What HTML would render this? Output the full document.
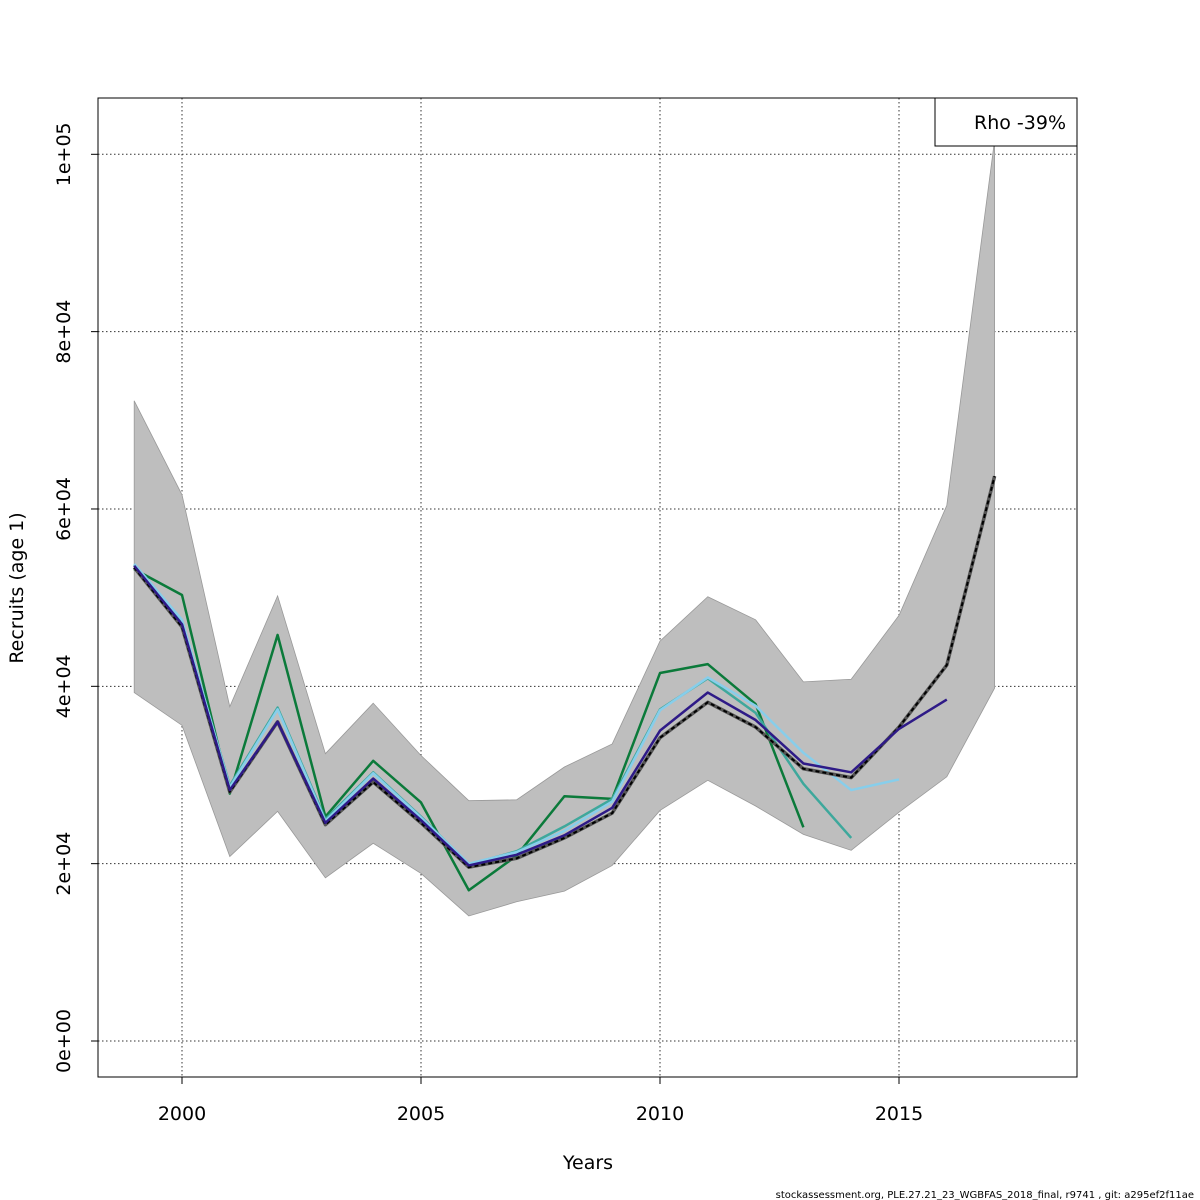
<!DOCTYPE html>
<html><head><meta charset="utf-8"><style>
html,body{margin:0;padding:0;background:#fff;}
svg{display:block;font-family:"DejaVu Sans","Liberation Sans",sans-serif;}
</style></head><body>
<svg id="chart" width="1200" height="1200" viewBox="0 0 1200 1200" xmlns="http://www.w3.org/2000/svg">
<g id="grid"></g>
<g id="band"></g>
<g id="lines"></g>
<rect x="98" y="98" width="979" height="979" fill="none" stroke="#000" stroke-width="1"/>
<g id="axes"></g>
<g>
<rect x="935" y="98" width="142" height="48" fill="#fff" stroke="#000" stroke-width="1"/>
<text x="1020" y="129" font-size="19" text-anchor="middle">Rho -39%</text>
</g>
<text x="588" y="1169" font-size="19" text-anchor="middle">Years</text>
<text x="23" y="588" font-size="19" text-anchor="middle" transform="rotate(-90 23 588)">Recruits (age 1)</text>
<text x="1194" y="1198" font-size="10" text-anchor="end">stockassessment.org, PLE.27.21_23_WGBFAS_2018_final, r9741 , git: a295ef2f11ae</text>
</svg>
<script>
const years = [1999,2000,2001,2002,2003,2004,2005,2006,2007,2008,2009,2010,2011,2012,2013,2014,2015,2016,2017];
const upper = [72.2,61.6,37.7,50.2,32.4,38.1,32.2,27.1,27.2,30.9,33.5,45.1,50.1,47.5,40.5,40.8,48.0,60.4,101.6];
const lower = [39.3,35.6,20.8,25.9,18.4,22.3,18.9,14.1,15.7,16.9,19.8,26.0,29.4,26.5,23.3,21.5,25.8,29.8,39.8];
const finalRun = [53.4,46.7,28.1,36.0,24.4,29.2,24.6,19.6,20.6,22.9,25.7,34.2,38.2,35.4,30.7,29.7,35.4,42.4,63.7];
const peel1 = [53.6,47.0,28.3,36.0,24.6,29.6,24.9,19.8,21.0,23.2,26.3,35.0,39.3,36.2,31.3,30.3,35.2,38.5];
const peel2 = [53.8,47.5,28.6,37.4,24.8,30.2,25.2,20.0,21.3,23.7,27.0,37.3,41.0,37.8,32.5,28.3,29.5];
const peel3 = [53.7,47.3,28.8,37.6,25.0,30.3,25.3,19.9,21.4,24.2,27.3,37.4,40.9,37.0,29.0,22.9];
const peel4 = [53.2,50.3,27.9,45.8,25.3,31.6,26.9,17.0,20.9,27.6,27.3,41.5,42.5,38.0,24.1];
const xTicks = [2000,2005,2010,2015];
const yTicks = [0,20,40,60,80,100];
const yTickLabels = ["0e+00","2e+04","4e+04","6e+04","8e+04","1e+05"];

const NS="http://www.w3.org/2000/svg";
const X = y => 182 + (y-2000)*47.8;
const Y = v => 1041 - v*8.867;
function mk(tag, parent, attrs){const e=document.createElementNS(NS,tag);for(const k in attrs)e.setAttribute(k,attrs[k]);document.getElementById(parent).appendChild(e);return e;}

xTicks.forEach((t,i)=>{
  const g=mk('line','grid',{x1:X(t),x2:X(t),y1:98,y2:1077,stroke:'#333','stroke-width':1,'stroke-dasharray':'1.5,2.5'});
  
  
  const tk=mk('line','axes',{x1:X(t),x2:X(t),y1:1077,y2:1084,stroke:'#000'});
  
  
  const tx=mk('text','axes',{x:X(t),y:1120,'font-size':19,'text-anchor':'middle'});
  tx.textContent=t;
  
  
});
yTicks.forEach((t,i)=>{
  const g=mk('line','grid',{x1:98,x2:1077,y1:Y(t),y2:Y(t),stroke:'#333','stroke-width':1,'stroke-dasharray':'1.5,2.5'});
  
  
  const tk=mk('line','axes',{x1:91,x2:98,y1:Y(t),y2:Y(t),stroke:'#000'});
  
  
  const yy=Y(t);
  const tx=mk('text','axes',{x:70,y:yy,'font-size':19,'text-anchor':'middle',transform:`rotate(-90 70 ${yy})`});
  tx.textContent=yTickLabels[i];
  
  
});

let pts = years.map((y,i)=>X(y)+','+Y(upper[i]));
pts = pts.concat(years.slice().reverse().map((y,j)=>X(y)+','+Y(lower[years.length-1-j])));
const poly=mk('polygon','band',{points:pts.join(' '),fill:'#bebebe',stroke:'#999','stroke-width':0.8});



function line(vals, color, name, w){
  const p=vals.map((v,i)=>X(years[i])+','+Y(v)).join(' ');
  const l=mk('polyline','lines',{points:p,fill:'none',stroke:color,'stroke-width':w||2.5,'stroke-linejoin':'round'});
  
  
  return l;
}
line(peel4,'#0b7a3a','retro-line-2013');
line(peel3,'#3ea89c','retro-line-2014');
line(peel2,'#87ceeb','retro-line-2015');
line(finalRun,'#555','final-line-base',3.5);
const d=line(finalRun,'#000','final-line-dashed',2);
d.setAttribute('stroke-dasharray','4,3');
line(peel1,'#2e1a87','retro-line-2016');
</script>
</body></html>
